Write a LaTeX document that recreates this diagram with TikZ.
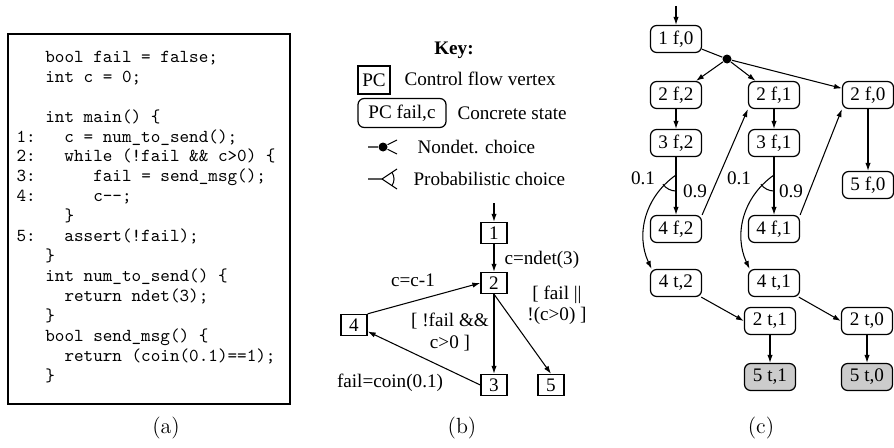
\documentclass[tikz,border=0pt]{standalone}
\usepackage{fontspec}
\usetikzlibrary{arrows.meta}
\newfontfamily\tms{Liberation Serif}[Scale=1.09]
\newcommand{\codeind}[1]{\hspace*{#1\dimexpr 0.525em\relax}}

\tikzset{
  pc/.style={draw, line width=0.8pt, minimum width=0.52cm, minimum height=0.42cm, inner sep=1pt, font=\tms},
  cstate/.style={draw, line width=0.7pt, rounded corners=3.5pt, minimum width=1.02cm, minimum height=0.54cm, inner sep=1pt, font=\tms},
  final/.style={cstate, fill=black!20},
  choice/.style={circle, fill, inner sep=0pt, minimum size=0.18cm},
  lbl/.style={font=\tms, inner sep=0pt},
  subcap/.style={font=\fontsize{12.5}{15}\selectfont, anchor=base},
  arr/.style={-{Latex[length=4.5pt,width=3pt]}, line width=0.6pt},
}

\begin{document}
\begin{tikzpicture}[line width=0.6pt]
  \useasboundingbox (0,0) rectangle (17.88,8.94);

  % (a) program
  \draw[line width=0.8pt] (0.16,0.86) rectangle (5.80,8.26);
  \node[anchor=north west, inner sep=0pt, align=left,
        font=\ttfamily\fontsize{10.4}{11.34}\selectfont] (prog) at (0.32,7.93) {%
    \codeind{3}bool fail = false;\\
    \codeind{3}int c = 0;\\[11.34pt]
    \codeind{3}int main() \{\\
    1:\codeind{3}c = num\_to\_send();\\
    2:\codeind{3}while (!fail \&\& c>0) \{\\
    3:\codeind{6}fail = send\_msg();\\
    4:\codeind{6}c-{}-;\\
    \codeind{5}\}\\
    5:\codeind{3}assert(!fail);\\
    \codeind{3}\}\\
    \codeind{3}int num\_to\_send() \{\\
    \codeind{5}return ndet(3);\\
    \codeind{3}\}\\
    \codeind{3}bool send\_msg() \{\\
    \codeind{5}return (coin(0.1)==1);\\
    \codeind{3}\}};
  \node[subcap] (capa) at (3.32,0.27) {(a)};

  % key
  \node[lbl, font=\tms\bfseries] (key) at (9.08,7.94) {Key:};
  \node[pc, minimum width=0.64cm, minimum height=0.56cm] (kpc) at (7.48,7.34) {PC};
  \node[lbl, anchor=west] (kpct) at (8.08,7.36) {Control flow vertex};
  \node[cstate, minimum width=1.76cm, minimum height=0.58cm] (kst) at (8.04,6.68) {PC fail,c};
  \node[lbl, anchor=west] (kstt) at (9.14,6.68) {Concrete state};

  \coordinate (kn0) at (7.36,6.00);
  \node[choice] (kn) at (7.66,6.00) {};
  \coordinate (kn1) at (7.94,6.14);
  \coordinate (kn2) at (7.94,5.86);
  \draw (kn0) -- (kn) -- (kn1);
  \draw (kn) -- (kn2);
  \node[lbl, anchor=west] (knt) at (8.34,6.00) {Nondet. choice};

  \coordinate (kp0) at (7.36,5.36);
  \coordinate (kp) at (7.64,5.36);
  \coordinate (kp1) at (7.94,5.56);
  \coordinate (kp2) at (7.94,5.16);
  \draw (kp0) -- (kp) -- (kp1);
  \draw (kp) -- (kp2);
  \draw (kp) ++(-34:0.24) arc[start angle=-34, end angle=34, radius=0.24];
  \node[lbl, anchor=west] (kpt) at (8.26,5.36) {Probabilistic choice};

  % (b) control flow graph
  \coordinate (in1) at (9.88,4.88);
  \node[pc] (n1) at (9.88,4.28) {1};
  \node[pc] (n2) at (9.88,3.28) {2};
  \node[pc] (n3) at (9.88,1.24) {3};
  \node[pc] (n4) at (7.08,2.44) {4};
  \node[pc] (n5) at (11.02,1.24) {5};

  \draw[arr] (in1) -- (n1);
  \draw[arr] (n1) -- (n2);
  \draw[arr] (n2) -- (n3);
  \draw[arr] (n2.south) -- (n5.north);
  \draw[arr] (n4.north east) -- (n2.west);
  \draw[arr] (n3.west) -- (n4);

  \node[lbl, anchor=west] at (10.08,3.74) {c=ndet(3)};
  \node[lbl] at (8.26,3.34) {c=c-1};
  \node[lbl, align=center] at (9.00,2.30) {[ !fail \&\&\\ c>0 ]};
  \node[lbl, align=center] at (11.14,2.84) {[ fail ||\\ !(c>0) ]};
  \node[lbl] at (7.80,1.28) {fail=coin(0.1)};
  \node[subcap] (capb) at (9.24,0.27) {(b)};

  % (c) concrete states
  \coordinate (in2) at (13.52,8.82);
  \node[cstate] (s1f0) at (13.52,8.16) {1 f,0};
  \node[choice] (nd) at (14.54,7.76) {};
  \node[cstate] (s2f2) at (13.52,7.04) {2 f,2};
  \node[cstate] (s2f1) at (15.48,7.04) {2 f,1};
  \node[cstate] (s2f0) at (17.36,7.04) {2 f,0};
  \node[cstate] (s3f2) at (13.52,6.08) {3 f,2};
  \node[cstate] (s3f1) at (15.48,6.08) {3 f,1};
  \node[cstate] (s5f0) at (17.36,5.24) {5 f,0};
  \node[cstate] (s4f2) at (13.52,4.36) {4 f,2};
  \node[cstate] (s4f1) at (15.48,4.36) {4 f,1};
  \node[cstate] (s4t2) at (13.52,3.28) {4 t,2};
  \node[cstate] (s4t1) at (15.48,3.28) {4 t,1};
  \node[cstate] (s2t1) at (15.40,2.52) {2 t,1};
  \node[cstate] (s2t0) at (17.34,2.52) {2 t,0};
  \node[final] (s5t1) at (15.40,1.40) {5 t,1};
  \node[final] (s5t0) at (17.34,1.40) {5 t,0};

  \draw[arr] (in2) -- (s1f0);
  \draw (s1f0) -- (nd);
  \draw[arr] (nd) -- (s2f2);
  \draw[arr] (nd) -- (s2f1);
  \draw[arr] (nd) -- (s2f0);
  \draw[arr] (s2f2) -- (s3f2);
  \draw[arr] (s2f1) -- (s3f1);
  \draw[arr] (s2f0) -- (s5f0);

  % coin flips
  \coordinate (p2) at (13.52,5.44);
  \coordinate (p1) at (15.48,5.44);
  \draw (s3f2) -- (p2);
  \draw[arr] (p2) -- (s4f2);
  \draw[arr] (p2) to[out=215,in=115] (s4t2.150);
  \draw (p2) ++(215:0.32) arc[start angle=215, end angle=270, radius=0.32];
  \node[lbl] at (12.86,5.38) {0.1};
  \node[lbl] at (13.90,5.12) {0.9};

  \draw (s3f1) -- (p1);
  \draw[arr] (p1) -- (s4f1);
  \draw[arr] (p1) to[out=215,in=115] (s4t1.150);
  \draw (p1) ++(215:0.32) arc[start angle=215, end angle=270, radius=0.32];
  \node[lbl] at (14.78,5.38) {0.1};
  \node[lbl] at (15.82,5.12) {0.9};

  \draw[arr] (s4f2.north east) -- (s2f1.south west);
  \draw[arr] (s4f1.north east) -- (s2f0.south west);
  \draw[arr] (s4t2) -- (s2t1.west);
  \draw[arr] (s4t1) -- (s2t0.west);
  \draw[arr] (s2t1) -- (s5t1);
  \draw[arr] (s2t0) -- (s5t0);
  \node[subcap] (capc) at (15.22,0.27) {(c)};
\end{tikzpicture}
\end{document}
